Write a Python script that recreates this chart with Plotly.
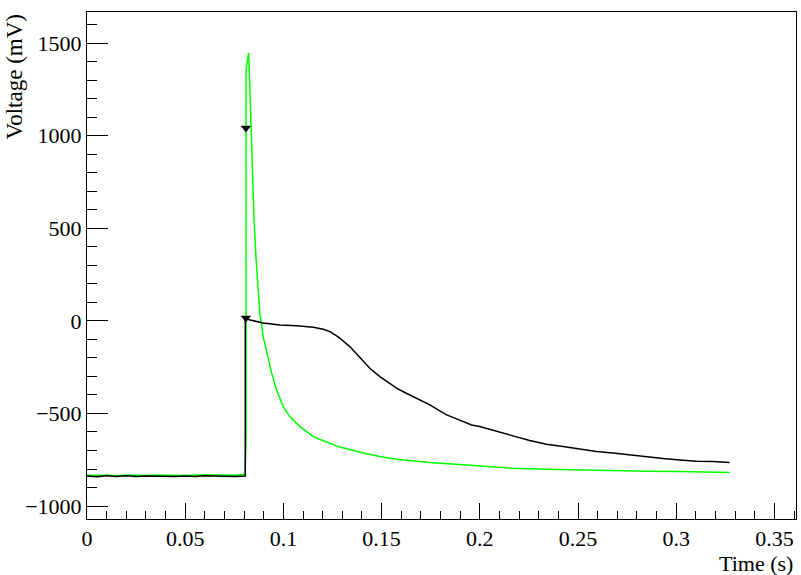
import plotly.graph_objects as go

# black trace (time in s, voltage in mV)
t_black = [0.0, 0.005, 0.01, 0.015, 0.02, 0.025, 0.03, 0.035, 0.04, 0.045, 0.05,
           0.055, 0.06, 0.065, 0.07, 0.075, 0.0806, 0.0806, 0.0813, 0.0830, 0.0897,
           0.0982, 0.1067, 0.1152, 0.1203, 0.1237, 0.1271, 0.1288, 0.1338, 0.1373,
           0.1406, 0.1440, 0.1491, 0.1533, 0.1576, 0.1618, 0.1661, 0.1703, 0.1746,
           0.1788, 0.1831, 0.1873, 0.1915, 0.1958, 0.2000, 0.2085, 0.2169, 0.2254,
           0.2339, 0.2424, 0.2509, 0.2594, 0.2678, 0.2763, 0.2848, 0.2933, 0.3018,
           0.3103, 0.3187, 0.3272]
v_black = [-838, -842, -836, -840, -837, -841, -838, -839, -836, -840, -838,
           -841, -837, -839, -838, -840, -838, 15, 12, 5, -12,
           -22, -27, -34, -45, -58, -81, -94, -139, -180,
           -220, -256, -301, -333, -363, -387, -409, -432, -454,
           -481, -508, -525, -544, -562, -571, -598, -621, -646,
           -666, -679, -693, -706, -714, -724, -736, -743, -751,
           -758, -760, -765]

# green trace
t_green = [0.0, 0.005, 0.01, 0.015, 0.02, 0.025, 0.03, 0.035, 0.04, 0.045, 0.05,
           0.055, 0.06, 0.065, 0.07, 0.075, 0.0800, 0.0805, 0.0810, 0.0810, 0.0818,
           0.0823, 0.0830, 0.0840, 0.0850, 0.0860, 0.0870, 0.0880, 0.0897, 0.0915,
           0.0940, 0.0965, 0.0999, 0.1033, 0.1084, 0.1118, 0.1152, 0.1194, 0.1237,
           0.1279, 0.1322, 0.1406, 0.1491, 0.1576, 0.1746, 0.1915, 0.2000, 0.2169,
           0.2339, 0.2509, 0.2678, 0.2848, 0.3018, 0.3272]
v_green = [-832, -835, -833, -836, -832, -834, -835, -832, -834, -833, -835,
           -832, -834, -833, -832, -834, -830, -812, -632, 1355, 1413,
           1447, 1236, 859, 562, 346, 184, 43, -85, -173,
           -281, -373, -463, -517, -571, -598, -625, -643, -660,
           -679, -691, -714, -733, -747, -765, -778, -787, -796,
           -801, -806, -810, -812, -814, -819]

# marker positions
t_mark = [0.0809, 0.0809]
v_mark = [1042, 16]

FONT = "Liberation Serif"

fig = go.Figure()
fig.add_trace(go.Scatter(x=t_green, y=v_green, mode="lines",
                         line=dict(color="#00ff00", width=1.5)))
fig.add_trace(go.Scatter(x=t_black, y=v_black, mode="lines",
                         line=dict(color="black", width=1.5)))
fig.add_trace(go.Scatter(x=t_mark, y=v_mark, mode="markers",
                         marker=dict(symbol="triangle-down", size=9, color="black")))

fig.update_xaxes(
    range=[0, 0.361],
    dtick=0.05,
    ticks="inside",
    ticklen=16,
    tickcolor="black",
    minor=dict(dtick=0.01, ticks="inside", ticklen=8, tickcolor="black"),
    showline=True,
    linecolor="black",
    linewidth=1,
    mirror=True,
    showgrid=False,
    zeroline=False,
    tickfont=dict(family=FONT, size=22, color="black"),
)
fig.update_yaxes(
    range=[-1070, 1668],
    dtick=500,
    ticks="inside",
    ticklen=21,
    tickcolor="black",
    minor=dict(dtick=100, ticks="inside", ticklen=10, tickcolor="black"),
    showline=True,
    linecolor="black",
    linewidth=1,
    mirror=True,
    showgrid=False,
    zeroline=False,
    exponentformat="none",
    tickfont=dict(family=FONT, size=22, color="black"),
)
fig.update_layout(
    width=801,
    height=575,
    margin=dict(l=87, r=5, t=12, b=56),
    plot_bgcolor="white",
    paper_bgcolor="white",
    showlegend=False,
    annotations=[
        dict(text="Time (s)", xref="paper", yref="paper", x=0.9985, y=-0.087,
             xanchor="right", yanchor="middle", showarrow=False,
             font=dict(family=FONT, size=22, color="black")),
        dict(text="Voltage (mV)", xref="paper", yref="paper", x=-0.1016, y=1.0,
             xanchor="center", yanchor="top", textangle=-90, showarrow=False,
             font=dict(family=FONT, size=23, color="black")),
    ],
)

fig.write_html("out.html", config={"displayModeBar": False},
               post_script="document.body.style.margin='0';")
